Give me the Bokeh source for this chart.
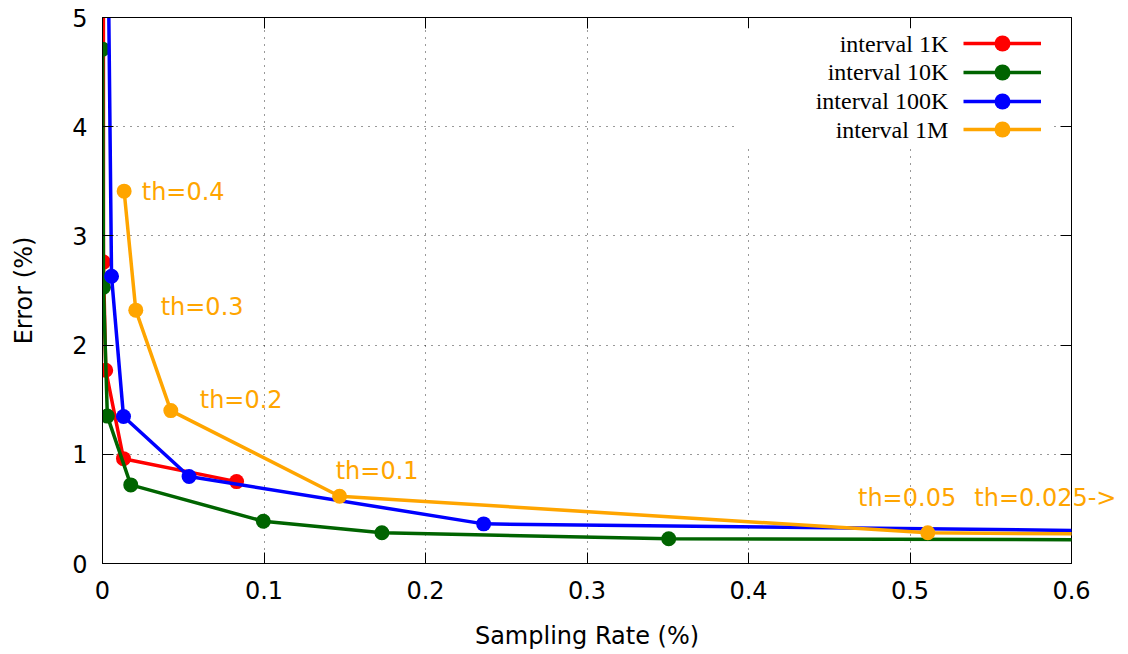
from bokeh.plotting import figure
from bokeh.models import (Range1d, FixedTicker, NumeralTickFormatter, Legend, LegendItem,
                          Label, BoxAnnotation, LinearAxis, CustomJSTickFormatter)
from bokeh.core.properties import value
from bokeh.embed import file_html
from bokeh.resources import INLINE

# ---- data ----
series_names = ["interval 1K", "interval 10K", "interval 100K", "interval 1M"]
series_colors = ["#ff0000", "#006400", "#0000ff", "#ffa500"]

x_1k = [0.0005, 0.0006, 0.002, 0.013, 0.083]
y_1k = [9.0, 2.76, 1.77, 0.96, 0.75]

x_10k = [0.0001, 0.0006, 0.003, 0.0175, 0.0996, 0.173, 0.3506, 0.7]
y_10k = [4.71, 2.53, 1.35, 0.72, 0.387, 0.281, 0.226, 0.215]

x_100k = [0.0018, 0.0056, 0.013, 0.0536, 0.236, 0.8]
y_100k = [8.0, 2.63, 1.346, 0.797, 0.363, 0.27]

x_1m = [0.0134, 0.0206, 0.0423, 0.1468, 0.511, 0.8]
y_1m = [3.41, 2.32, 1.40, 0.616, 0.281, 0.25]

x_ticks = [0, 0.1, 0.2, 0.3, 0.4, 0.5, 0.6]
y_ticks = [0, 1, 2, 3, 4, 5]

th_labels = ["th=0.4", "th=0.3", "th=0.2", "th=0.1", "th=0.05", "th=0.025->"]
th_x = [0.0243, 0.036, 0.0602, 0.1444, 0.4678, 0.5398]
th_y = [3.40, 2.347, 1.493, 0.845, 0.602, 0.602]

xs = [x_1k, x_10k, x_100k, x_1m]
ys = [y_1k, y_10k, y_100k, y_1m]

FONT = "DejaVu Sans"

p = figure(width=1128, height=654, output_backend="svg", toolbar_location=None,
           x_range=Range1d(0, 0.6), y_range=Range1d(0, 5),
           min_border_left=102, min_border_right=57, min_border_top=17, min_border_bottom=91)
p.background_fill_color = "white"
p.border_fill_color = "white"
p.outline_line_color = "black"
p.outline_line_width = 1
p.outline_line_alpha = 1

# axes
for ax in (p.xaxis[0], p.yaxis[0]):
    ax.major_label_text_font = FONT
    ax.major_label_text_font_size = "24px"
    ax.major_label_text_color = "black"
    ax.axis_label_text_font = FONT
    ax.axis_label_text_font_size = "24px"
    ax.axis_label_text_font_style = "normal"
    ax.axis_label_text_color = "black"
    ax.major_tick_in = 11
    ax.major_tick_out = 0
    ax.minor_tick_line_color = None
    ax.axis_line_color = "black"
    ax.major_tick_line_color = "black"

p.xaxis[0].ticker = FixedTicker(ticks=x_ticks)
p.xaxis[0].formatter = NumeralTickFormatter(format="0.[0]")
p.xaxis[0].axis_label = "Sampling Rate (%)"
p.xaxis[0].major_label_standoff = 17
p.xaxis[0].axis_label_standoff = 20

p.yaxis[0].ticker = FixedTicker(ticks=y_ticks)
p.yaxis[0].axis_label = "Error (%)"
p.yaxis[0].major_label_standoff = 15
p.yaxis[0].axis_label_standoff = 31

# mirrored ticks on top / right
blank = CustomJSTickFormatter(code="return ''")
top_ax = LinearAxis(ticker=FixedTicker(ticks=x_ticks), formatter=blank,
                    major_tick_in=11, major_tick_out=0, major_label_standoff=0,
                    minor_tick_line_color=None, axis_line_color=None,
                    major_label_text_font_size="1px")
right_ax = LinearAxis(ticker=FixedTicker(ticks=y_ticks), formatter=blank,
                      major_tick_in=11, major_tick_out=0, major_label_standoff=0,
                      minor_tick_line_color=None, axis_line_color=None,
                      major_label_text_font_size="1px")
p.add_layout(top_ax, "above")
p.add_layout(right_ax, "right")

# grid
for g in (p.xgrid[0], p.ygrid[0]):
    g.grid_line_color = "black"
    g.grid_line_alpha = 0.8
    g.grid_line_width = 1
    g.grid_line_dash = "1 6"
p.xgrid[0].ticker = FixedTicker(ticks=x_ticks)
p.ygrid[0].ticker = FixedTicker(ticks=y_ticks)

# white key box (hides grid behind the key)
p.add_layout(BoxAnnotation(left=0.3938, right=0.5887, bottom=3.81, top=4.90,
                           fill_color="white", fill_alpha=1.0, line_color=None))

# series
renderers = []
for name, col, xv, yv in zip(series_names, series_colors, xs, ys):
    lr = p.line(xv, yv, line_color=col, line_width=3.5)
    sr = p.scatter(xv, yv, size=15, fill_color=col, line_color=col, line_width=0)
    renderers.append((lr, sr))

# threshold annotations: text glyphs on the overlay level (not clipped to the frame)
p.text(x=th_x, y=th_y, text=th_labels, text_color="#ffa500",
       text_font=value(FONT), text_font_size="24px",
       text_align="left", text_baseline="middle", level="overlay")

# key: one single-entry legend per row (glyph only), text drawn to its left
key_rows_bottom = [500, 471, 442, 414]
for (lr, sr), yb in zip(renderers, key_rows_bottom):
    lg = Legend(items=[LegendItem(label=value(""), renderers=[lr, sr])],
                location=(861, yb), glyph_width=78, glyph_height=40,
                spacing=0, padding=0, margin=0, label_width=0, label_standoff=0,
                label_text_font_size="10px", border_line_color=None,
                background_fill_alpha=0)
    p.add_layout(lg)

key_x = [0.5237, 0.5237, 0.5237, 0.5237]
key_y = [4.759, 4.499, 4.234, 3.972]
for name, kx, ky in zip(series_names, key_x, key_y):
    p.add_layout(Label(x=kx, y=ky, text=name, text_align="right", text_baseline="middle",
                       text_font="Liberation Serif", text_font_size="24px",
                       text_color="black"))

open("out.html", "w").write(file_html(p, INLINE))
